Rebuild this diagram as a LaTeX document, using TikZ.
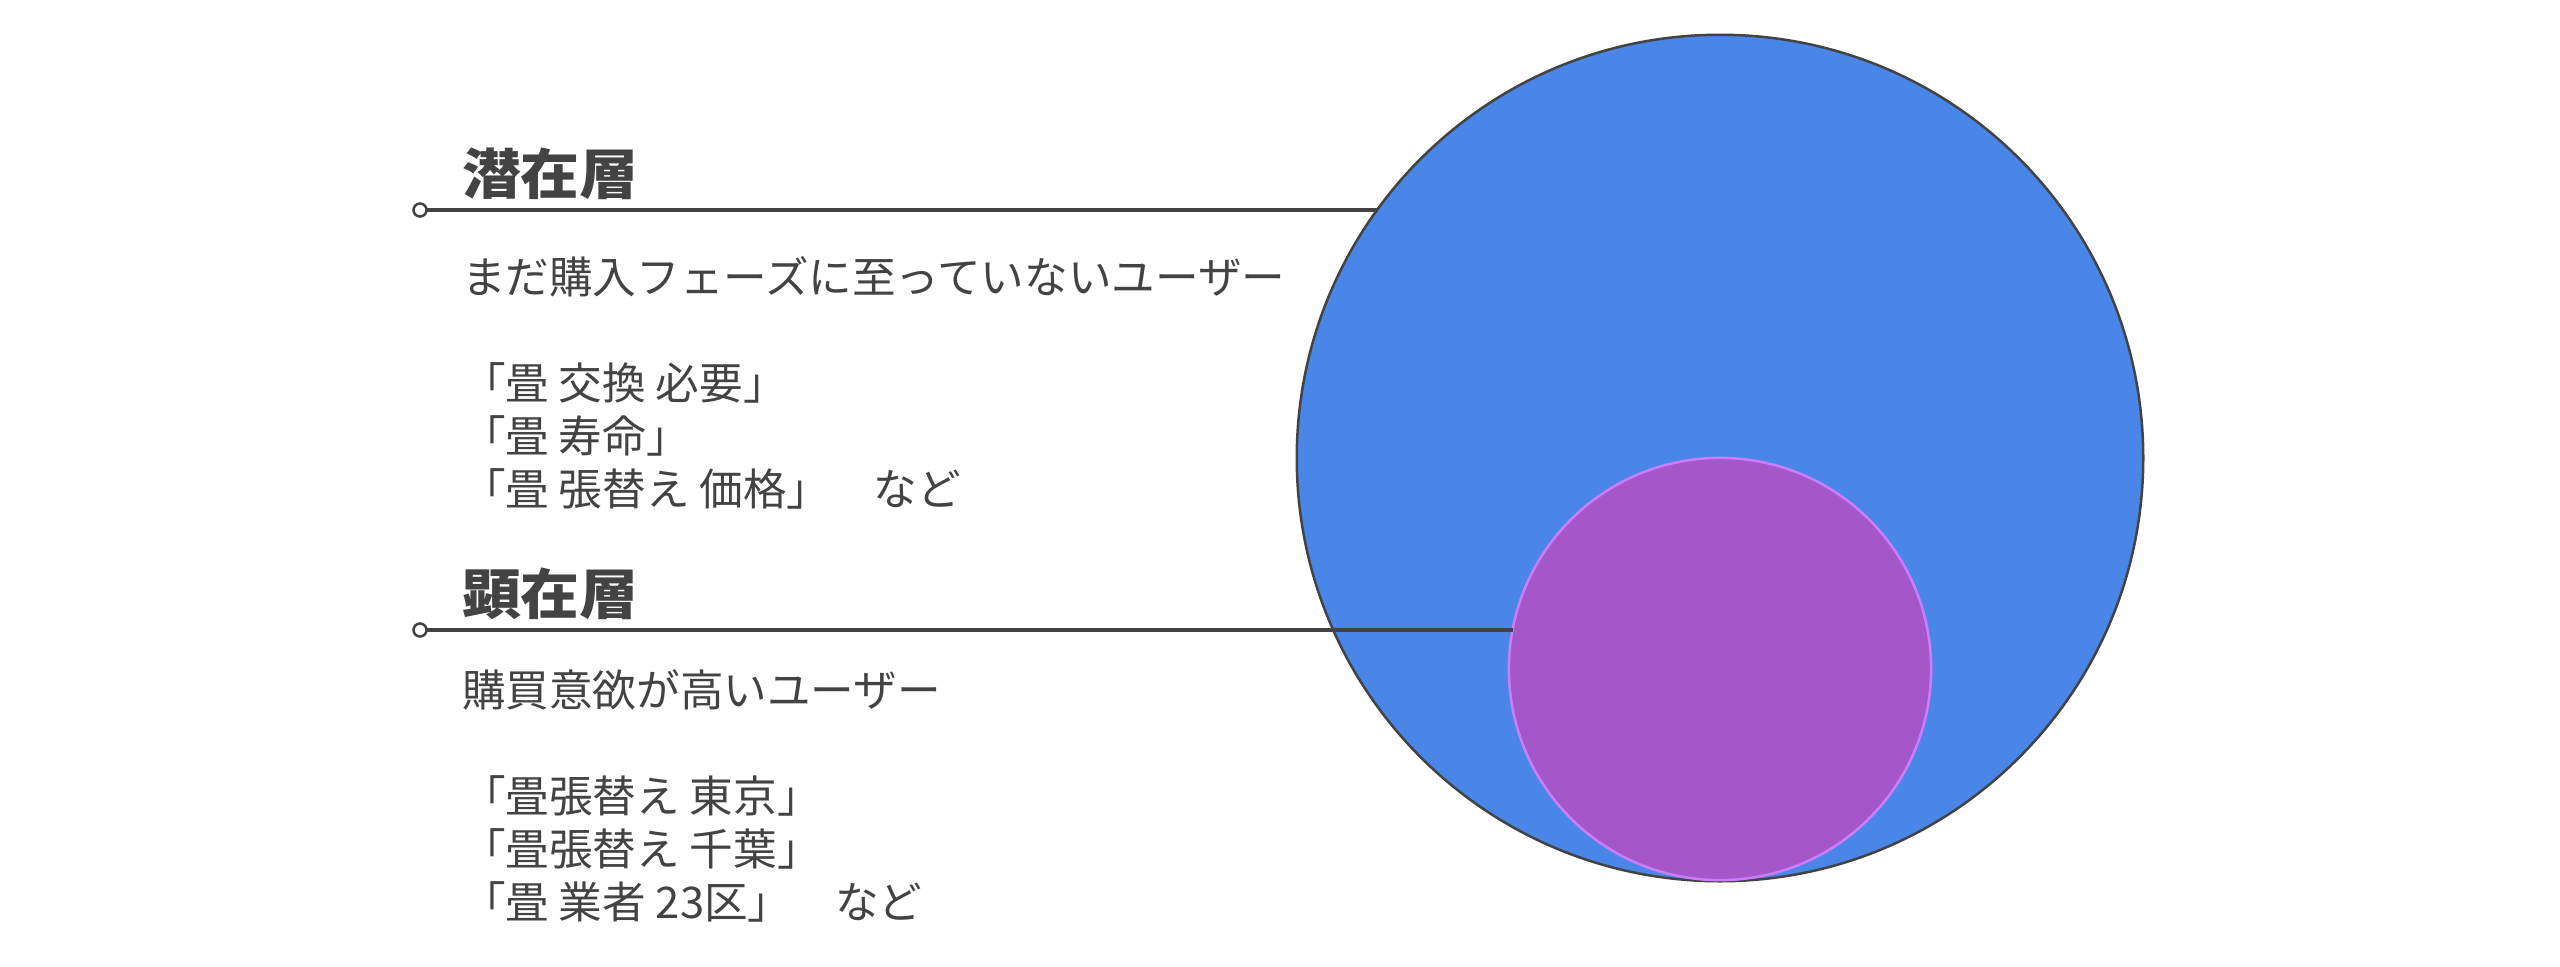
\documentclass[tikz,border=0pt]{standalone}
\usepackage{fontspec}
\newfontfamily\jp{Noto Sans CJK JP}
\newfontfamily\jph{Noto Sans CJK JP}[FakeStretch=1.08]
\definecolor{txt}{HTML}{434343}
\definecolor{blueA}{HTML}{4A86E8}
\definecolor{purpA}{HTML}{A556C8}
\definecolor{purpEdge}{HTML}{CC7DFF}
\tikzset{
  headtext/.style={anchor=base west, inner sep=0pt, outer sep=0pt, text=txt,
    font=\jph\bfseries\fontsize{15.5pt}{18pt}\selectfont},
  bodytext/.style={anchor=base west, inner sep=0pt, outer sep=0pt, text=txt,
    font=\jp\fontsize{12.4pt}{15pt}\selectfont},
  marker/.style={circle, draw=txt, fill=white, line width=0.025cm, minimum size=0.13cm, inner sep=0pt, outer sep=0pt},
  leader/.style={draw=txt, line width=0.035cm},
}
\begin{document}
\begin{tikzpicture}[x=0.01cm,y=-0.01cm]
\useasboundingbox (0,0) rectangle (2560,966);
% circles
\node[circle, fill=blueA, draw=txt, line width=0.025cm, minimum size=8.46cm, inner sep=0pt, outer sep=0pt] (outer) at (1720,458) {};
\node[circle, fill=purpA, draw=purpEdge, line width=0.025cm, minimum size=4.22cm, inner sep=0pt, outer sep=0pt] (inner) at (1720,669) {};
% leaders
\node[marker] (m1) at (420,210) {};
\node[marker] (m2) at (420,630) {};
\draw[leader] (m1.east) -- (m1 -| outer.144.1);
\draw[leader] (m2.east) -- (m2 -| inner.169.35);
% group 1
\node[headtext] (h1) at (462,194) {潜在層};
\node[bodytext] (a1) at (462,293) {まだ購入フェーズに至っていないユーザー};
\node[bodytext] (a2) at (462,399) {「畳 交換 必要」};
\node[bodytext] (a3) at (462,452) {「畳 寿命」};
\node[bodytext] (a4) at (462,505) {「畳 張替え 価格」　など};
% group 2
\node[headtext] (h2) at (462,614) {顕在層};
\node[bodytext] (b1) at (462,706) {購買意欲が高いユーザー};
\node[bodytext] (b2) at (462,812) {「畳張替え 東京」};
\node[bodytext] (b3) at (462,865) {「畳張替え 千葉」};
\node[bodytext] (b4) at (462,918) {「畳 業者 23区」　など};
\end{tikzpicture}
\end{document}
